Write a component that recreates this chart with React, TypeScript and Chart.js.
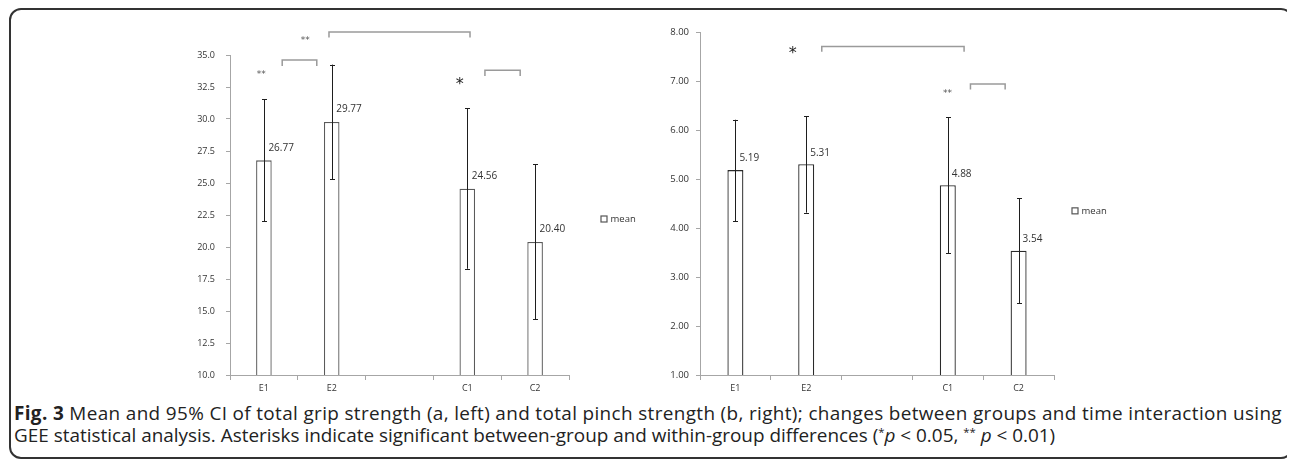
import React, { useEffect, useLayoutEffect, useRef } from "react";
import { Chart, registerables } from "chart.js";

Chart.register(...registerables);

// ---------- data ----------
const categories = ["E1", "E2", "", "C1", "C2"];

const gripMean = [26.77, 29.77, null, 24.56, 20.4];
const gripLower = [22.0, 25.3, null, 18.3, 14.35];
const gripUpper = [31.55, 34.25, null, 30.85, 26.45];
const gripTickMin = 10;
const gripTickMax = 35;
const gripTickStep = 2.5;

const pinchMean = [5.19, 5.31, null, 4.88, 3.54];
const pinchLower = [4.14, 4.32, null, 3.49, 2.47];
const pinchUpper = [6.22, 6.29, null, 6.27, 4.61];
const pinchTickMin = 1;
const pinchTickMax = 8;
const pinchTickStep = 1;

const legendLabel = "mean";

// significance brackets in data units (x = category index, y = value)
const gripBrackets = [
  { x1: 0.96, x2: 3.04, y: 36.8, yEnd: 36.36 },
  { x1: 0.27, x2: 0.78, y: 34.61, yEnd: 34.14 },
  { x1: 3.26, x2: 3.78, y: 33.8, yEnd: 33.36 },
];
const gripStars = [
  { x: 0.61, y: 36.3, text: "**" },
  { x: -0.04, y: 33.65, text: "**" },
  { x: 2.89, y: 33.0, text: "*" },
];
const pinchBrackets = [
  { x1: 1.22, x2: 3.23, y: 7.72, yEnd: 7.61 },
  { x1: 3.32, x2: 3.81, y: 6.95, yEnd: 6.84 },
];
const pinchStars = [
  { x: 0.81, y: 7.65, text: "*" },
  { x: 2.995, y: 6.8, text: "**" },
];

const FONT = "'Open Sans', 'Noto Sans', sans-serif";

type Opts = {
  mean: (number | null)[];
  lower: (number | null)[];
  upper: (number | null)[];
  min: number;
  max: number;
  step: number;
  decimals: number;
  brackets: { x1: number; x2: number; y: number; yEnd: number }[];
  stars: { x: number; y: number; text: string }[];
  padding: { left: number; right: number; top: number; bottom: number };
  yWidth: number;
  yPad: number;
  tickSize: number;
  barBorder: string;
  barPct: number;
  labelDx: number;
  labelDy: number;
  legendDx: number;
  legendDy: number;
};

function makeChart(canvas: HTMLCanvasElement, o: Opts) {
  const extras = {
    id: "figExtras",
    afterDatasetsDraw(chart: any) {
      const ctx = chart.ctx;
      const xs = chart.scales.x;
      const ys = chart.scales.y;
      ctx.save();
      // error bars
      ctx.strokeStyle = "#1e1e1e";
      ctx.lineWidth = 1;
      o.mean.forEach((m, i) => {
        const lo = o.lower[i];
        const hi = o.upper[i];
        if (m == null || lo == null || hi == null) return;
        const x = Math.round(xs.getPixelForValue(i)) + 0.5;
        const y1 = ys.getPixelForValue(lo);
        const y2 = ys.getPixelForValue(hi);
        ctx.beginPath();
        ctx.moveTo(x, y1);
        ctx.lineTo(x, y2);
        ctx.moveTo(x - 2.5, Math.round(y1) + 0.5);
        ctx.lineTo(x + 2.5, Math.round(y1) + 0.5);
        ctx.moveTo(x - 2.5, Math.round(y2) + 0.5);
        ctx.lineTo(x + 2.5, Math.round(y2) + 0.5);
        ctx.stroke();
      });
      // value labels
      ctx.fillStyle = "#333";
      ctx.font = `10px ${FONT}`;
      ctx.textAlign = "left";
      ctx.textBaseline = "middle";
      o.mean.forEach((m, i) => {
        if (m == null) return;
        const x = xs.getPixelForValue(i);
        const y = ys.getPixelForValue(m);
        ctx.fillText(m.toFixed(2), x + o.labelDx, y + o.labelDy);
      });
      // brackets
      ctx.strokeStyle = "#9a9a9a";
      ctx.lineWidth = 1.5;
      o.brackets.forEach((b) => {
        const x1 = xs.getPixelForValue(b.x1);
        const x2 = xs.getPixelForValue(b.x2);
        const y = ys.getPixelForValue(b.y);
        const ye = ys.getPixelForValue(b.yEnd);
        ctx.beginPath();
        ctx.moveTo(x1, ye);
        ctx.lineTo(x1, y);
        ctx.lineTo(x2, y);
        ctx.lineTo(x2, ye);
        ctx.stroke();
      });
      // stars
      ctx.textAlign = "center";
      ctx.textBaseline = "alphabetic";
      o.stars.forEach((s) => {
        const big = s.text.length === 1;
        ctx.font = big ? `16px 'DejaVu Sans', sans-serif` : `9px 'DejaVu Sans', sans-serif`;
        ctx.fillStyle = big ? "#222" : "#555";
        const x = xs.getPixelForValue(s.x);
        const y = ys.getPixelForValue(s.y);
        const mt = ctx.measureText(s.text);
        const a = mt.actualBoundingBoxAscent;
        const d = mt.actualBoundingBoxDescent;
        ctx.fillText(s.text, x, y + (a - d) / 2);
      });
      // legend
      const lx = chart.chartArea.right + o.legendDx;
      const ly = (chart.chartArea.top + chart.chartArea.bottom) / 2 + o.legendDy;
      ctx.fillStyle = "#fff";
      ctx.strokeStyle = "#555";
      ctx.lineWidth = 1.2;
      ctx.fillRect(lx, ly - 3, 6, 6);
      ctx.strokeRect(lx, ly - 3, 6, 6);
      ctx.fillStyle = "#333";
      ctx.font = `9.5px ${FONT}`;
      ctx.textAlign = "left";
      ctx.textBaseline = "middle";
      ctx.fillText(legendLabel, lx + 9.5, ly);
      ctx.restore();
    },
  };

  return new Chart(canvas, {
    type: "bar",
    data: {
      labels: categories,
      datasets: [
        {
          label: legendLabel,
          data: o.mean as any,
          backgroundColor: "#ffffff",
          borderColor: o.barBorder,
          borderWidth: 1.3,
          barPercentage: o.barPct,
          categoryPercentage: 1,
        },
      ],
    },
    options: {
      responsive: false,
      animation: false,
      events: [],
      layout: { padding: o.padding },
      plugins: { legend: { display: false }, tooltip: { enabled: false } },
      scales: {
        x: {
          afterFit: (s: any) => {
            s.height = 25;
          },
          ticks: {
            font: { family: FONT, size: 9 },
            color: "#333",
            padding: 3,
            autoSkip: false,
            maxRotation: 0,
          },
          grid: {
            drawOnChartArea: false,
            tickLength: 5,
            color: "#a6a6a6",
            offset: true,
          },
          border: { color: "#a6a6a6" },
        },
        y: {
          min: o.min,
          max: o.max,
          afterFit: (s: any) => {
            s.width = o.yWidth;
          },
          ticks: {
            stepSize: o.step,
            callback: (v: any) => Number(v).toFixed(o.decimals),
            font: { family: FONT, size: o.tickSize },
            color: "#333",
            padding: o.yPad,
          },
          grid: {
            drawOnChartArea: false,
            tickLength: 4,
            color: "#a6a6a6",
          },
          border: { color: "#a6a6a6" },
        },
      },
    },
    plugins: [extras],
  });
}

const supStyle: React.CSSProperties = {
  fontSize: "0.6em",
  lineHeight: 0,
  position: "relative",
  top: "-0.55em",
};

export default function App() {
  const leftRef = useRef<HTMLCanvasElement>(null);
  const rightRef = useRef<HTMLCanvasElement>(null);
  const line1Ref = useRef<HTMLSpanElement>(null);
  const line2Ref = useRef<HTMLSpanElement>(null);
  const capRef = useRef<HTMLDivElement>(null);

  useLayoutEffect(() => {
    document.body.style.overflow = "hidden";
    const s1 = line1Ref.current;
    const s2 = line2Ref.current;
    const c = capRef.current;
    if (s1 && s2 && c) {
      const w2 = s2.getBoundingClientRect().width;
      if (w2 > 0) c.style.fontSize = (16 * 1042) / w2 + "px";
      const w1 = s1.getBoundingClientRect().width;
      const n = (s1.textContent || "").length;
      if (w1 > 0 && n > 0) s1.style.letterSpacing = (1268 - w1) / n + "px";
    }
  }, []);

  useEffect(() => {
    const a = makeChart(leftRef.current!, {
      mean: gripMean,
      lower: gripLower,
      upper: gripUpper,
      min: gripTickMin,
      max: gripTickMax,
      step: gripTickStep,
      decimals: 1,
      brackets: gripBrackets,
      stars: gripStars,
      padding: { left: 0, right: 81, top: 35, bottom: 0 },
      yWidth: 80,
      yPad: 11,
      tickSize: 9,
      barBorder: "#5a5a5a",
      barPct: 0.23,
      labelDx: 4.5,
      labelDy: -12.5,
      legendDx: 32,
      legendDy: 4,
    });
    const b = makeChart(rightRef.current!, {
      mean: pinchMean,
      lower: pinchLower,
      upper: pinchUpper,
      min: pinchTickMin,
      max: pinchTickMax,
      step: pinchTickStep,
      decimals: 2,
      brackets: pinchBrackets,
      stars: pinchStars,
      padding: { left: 0, right: 96, top: 12, bottom: 0 },
      yWidth: 50,
      yPad: 7,
      tickSize: 9.5,
      barBorder: "#2a2a2a",
      barPct: 0.226,
      labelDx: 4,
      labelDy: -11.5,
      legendDx: 18,
      legendDy: 7,
    });
    return () => {
      a.destroy();
      b.destroy();
    };
  }, []);

  return (
    <div style={{ position: "relative", width: 1279, height: 455 }}>
      <div
        style={{
          position: "absolute",
          left: 1,
          top: 0,
          width: 1284,
          height: 451,
          boxSizing: "border-box",
          border: "2px solid #333",
          borderRadius: 12,
        }}
      />
      <canvas
        ref={leftRef}
        width={500}
        height={380}
        style={{ position: "absolute", left: 142, top: 12, width: 500, height: 380 }}
      />
      <canvas
        ref={rightRef}
        width={500}
        height={380}
        style={{ position: "absolute", left: 642, top: 12, width: 500, height: 380 }}
      />
      <div
        ref={capRef}
        style={{
          position: "absolute",
          left: 6,
          top: 394,
          fontFamily: FONT,
          fontSize: 16,
          lineHeight: "22px",
          color: "#222",
          whiteSpace: "nowrap",
        }}
      >
        <span ref={line1Ref}>
          <b>Fig. 3</b> Mean and 95% CI of total grip strength (a, left) and total pinch strength (b,
          right); changes between groups and time interaction using
        </span>
        <br />
        <span ref={line2Ref}>
          GEE statistical analysis. Asterisks indicate significant between-group and within-group
          differences (<span style={supStyle}>*</span>
          <i>p</i> &lt; 0.05, <span style={supStyle}>**</span> <i>p</i> &lt; 0.01)
        </span>
      </div>
    </div>
  );
}
